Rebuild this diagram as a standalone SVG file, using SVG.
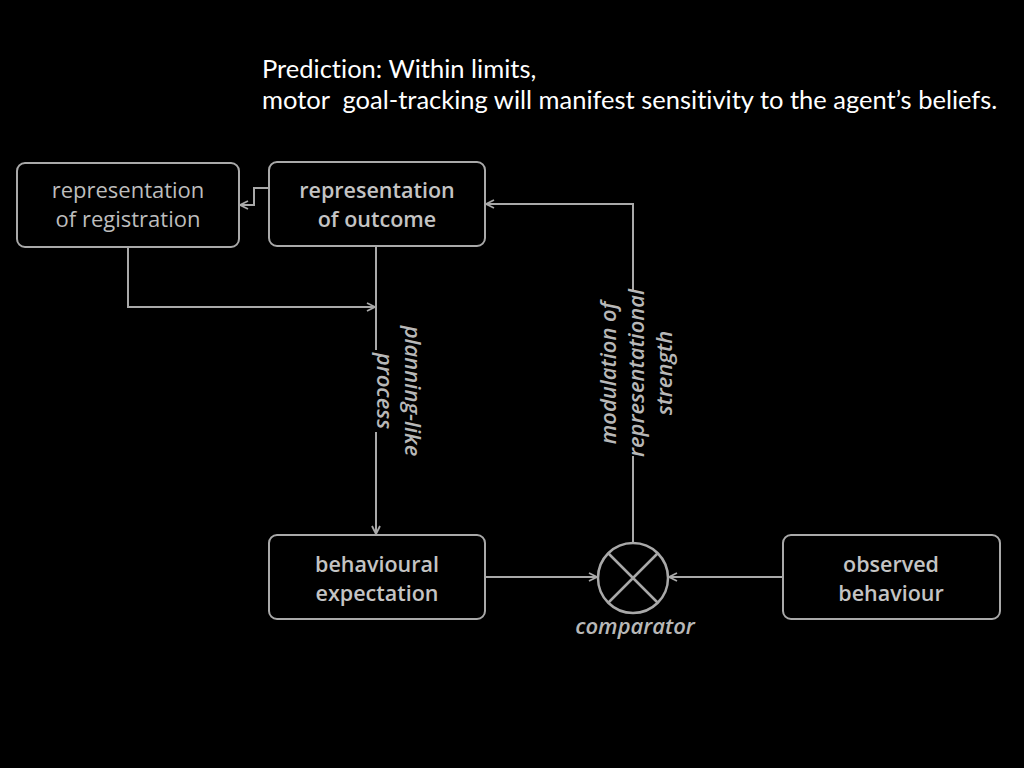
<svg xmlns="http://www.w3.org/2000/svg" width="1024" height="768" viewBox="0 0 1024 768">
<defs>
<style>
.box{fill:#000;stroke:#a9a9a9;stroke-width:2}
.lbl{font-family:"Open Sans","Liberation Sans",sans-serif;font-size:22px;fill:#bdbdbd;text-anchor:middle}
.b{font-weight:600;font-size:21.5px;fill:#c4c4c4}
.it{font-family:"Open Sans","Liberation Sans",sans-serif;font-size:22px;font-style:italic;font-weight:600;fill:#b8b8b8;text-anchor:middle}
.con{fill:none;stroke:#a9a9a9;stroke-width:2}
.title{font-family:Lato,"Liberation Sans",sans-serif;font-size:25.5px;fill:#fff;white-space:pre;font-variant-ligatures:none}
</style>
<marker id="arr" viewBox="0 0 10 10" refX="9" refY="5" markerWidth="10" markerHeight="10" markerUnits="userSpaceOnUse" orient="auto">
<path d="M1,1 L9,5 L1,9" fill="none" stroke="#a9a9a9" stroke-width="1.8"/>
</marker>
</defs>
<rect width="1024" height="768" fill="#000"/>
<text class="title" x="262" y="78">Prediction: Within limits,</text>
<text class="title" x="262" y="109" xml:space="preserve">motor  goal-tracking will manifest sensitivity to the agent’s beliefs.</text>
<g id="connectors">
<path class="con" d="M269,188 H254 V205 H240" marker-end="url(#arr)"/>
<path class="con" d="M128,247 V307 H375" marker-end="url(#arr)"/>
<path class="con" d="M376,246 V534" marker-end="url(#arr)"/>
<path class="con" d="M485,577 H597" marker-end="url(#arr)"/>
<path class="con" d="M783,577 H669" marker-end="url(#arr)"/>
<path class="con" d="M633,543 V204 H486" marker-end="url(#arr)"/>
<rect x="372" y="350" width="22" height="82" fill="#000"/>
<rect x="626" y="292" width="20" height="164" fill="#000"/>
<g transform="translate(396,391) rotate(90)">
<text class="it" x="0" y="-9">planning-like</text>
<text class="it" x="0" y="19">process</text>
</g>
<g transform="translate(630,373) rotate(-90)">
<text class="it" x="0" y="-14">modulation of</text>
<text class="it" x="0" y="14">representational</text>
<text class="it" x="0" y="42">strength</text>
</g>
<text class="it" x="635" y="634">comparator</text>
</g>
<g id="node-registration">
<rect class="box" x="17" y="163" width="222" height="84" rx="8"/>
<text class="lbl" x="128" y="198">representation</text>
<text class="lbl" x="128" y="227">of registration</text>
</g>
<g id="node-outcome">
<rect class="box" x="269" y="162" width="216" height="84" rx="8"/>
<text class="lbl b" x="377" y="198">representation</text>
<text class="lbl b" x="377" y="227">of outcome</text>
</g>
<g id="node-expectation">
<rect class="box" x="269" y="535" width="216" height="84" rx="8"/>
<text class="lbl b" x="377" y="572">behavioural</text>
<text class="lbl b" x="377" y="601">expectation</text>
</g>
<g id="node-observed">
<rect class="box" x="783" y="535" width="217" height="84" rx="8"/>
<text class="lbl b" x="891" y="572">observed</text>
<text class="lbl b" x="891" y="601">behaviour</text>
</g>
<g id="comparator">
<circle cx="633" cy="578" r="35" fill="#000" stroke="#a9a9a9" stroke-width="2.5"/>
<path d="M608,553 L658,603 M658,553 L608,603" stroke="#a9a9a9" stroke-width="2.5"/>
</g>
</svg>
